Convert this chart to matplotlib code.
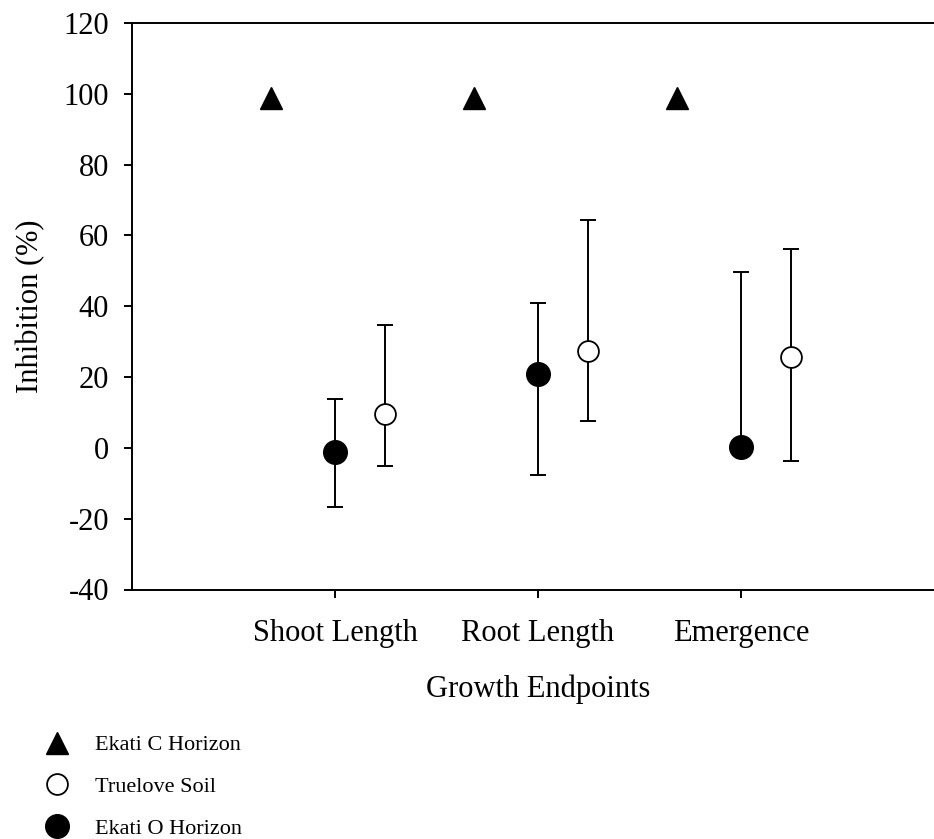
import numpy as np
import matplotlib
matplotlib.use('Agg')
import matplotlib.pyplot as plt

plt.rcParams['font.family'] = ['Liberation Serif', 'DejaVu Serif']
plt.rcParams['axes.unicode_minus'] = False

endpoints = ["Shoot Length", "Root Length", "Emergence"]

# Ekati C horizon: complete inhibition, no spread shown
ekati_c = [98.7, 98.7, 98.7]

# Truelove soil: mean with upper/lower bar ends
truelove = [9.6, 27.3, 25.6]
truelove_hi = [34.6, 64.5, 56.2]
truelove_lo = [-5.1, 7.6, -3.7]

# Ekati O horizon
ekati_o = [-1.1, 20.8, 0.3]
ekati_o_hi = [13.8, 41.0, 49.7]
ekati_o_lo = [-16.6, -7.6, 0.3]

x = np.arange(1, len(endpoints) + 1)

fig = plt.figure(figsize=(9.34, 8.39), dpi=100)
ax = fig.add_axes([132 / 934, 1 - 589.5 / 839, 812 / 934, 566.5 / 839])

tri, = ax.plot(x - 0.315, ekati_c, linestyle="none", marker="^",
               markersize=15.5, color="black", label="Ekati C Horizon")

tl = np.array(truelove)
ax.errorbar(x + 0.245, tl,
            yerr=[tl - np.array(truelove_lo), np.array(truelove_hi) - tl],
            fmt="none", ecolor="black", elinewidth=1.4, capsize=6, capthick=1.4)
opn, = ax.plot(x + 0.245, tl, linestyle="none", marker="o", markersize=15,
               markerfacecolor="white", markeredgecolor="black",
               markeredgewidth=1.3, label="Truelove Soil")

eo = np.array(ekati_o)
ax.errorbar(x, eo,
            yerr=[eo - np.array(ekati_o_lo), np.array(ekati_o_hi) - eo],
            fmt="none", ecolor="black", elinewidth=1.4, capsize=6, capthick=1.4)
fil, = ax.plot(x, eo, linestyle="none", marker="o", markersize=17,
               color="black", label="Ekati O Horizon")

ax.set_xlim(0, 4)
ax.set_ylim(-40, 120)
ax.set_yticks(np.arange(-40, 121, 20))
ax.set_xticks(x)
ax.set_xticklabels(endpoints)

for side in ["left", "bottom", "top", "right"]:
    ax.spines[side].set_linewidth(1.4)

ax.tick_params(axis="both", direction="out", length=5.5, width=1.4,
               labelsize=22)
ax.tick_params(axis="y", pad=11)
ax.tick_params(axis="x", pad=16)

ax.set_ylabel("Inhibition (%)", fontsize=22, labelpad=13)
ax.set_xlabel("Growth Endpoints", fontsize=22, labelpad=18.5)

fig.legend(handles=[tri, opn, fil], loc="upper left",
           bbox_to_anchor=(35 / 934, 1 - 726 / 839), frameon=False,
           fontsize=16, numpoints=1, handlelength=1.2, handletextpad=1.08,
           labelspacing=0.95, borderaxespad=0)

fig.savefig("out.png", dpi=100)
